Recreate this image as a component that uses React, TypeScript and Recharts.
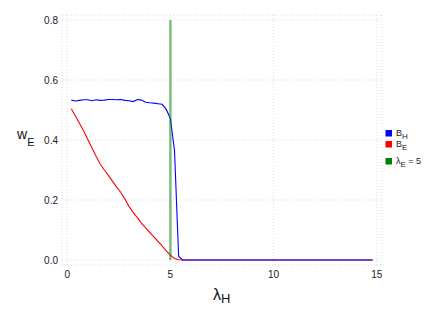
import { CartesianGrid, Label, Line, LineChart, XAxis, YAxis } from "recharts";

// lambda_H sweep
const lambdaH = [
  0.2, 0.4, 0.6, 0.8, 1, 1.2, 1.4, 1.6, 1.8, 2,
  2.2, 2.4, 2.6, 2.8, 3, 3.2, 3.4, 3.6, 3.8, 4,
  4.2, 4.4, 4.6, 4.8, 5, 5.2, 5.4, 5.6, 5.8, 6,
  6.2, 6.4, 6.6, 6.8, 7, 7.2, 7.4, 7.6, 7.8, 8,
  8.2, 8.4, 8.6, 8.8, 9, 9.2, 9.4, 9.6, 9.8, 10,
  10.2, 10.4, 10.6, 10.8, 11, 11.2, 11.4, 11.6, 11.8, 12,
  12.2, 12.4, 12.6, 12.8, 13, 13.2, 13.4, 13.6, 13.8, 14,
  14.2, 14.4, 14.6, 14.8,
];

const wB_H = [
  0.533, 0.530, 0.532, 0.534, 0.534, 0.531, 0.534, 0.532, 0.533, 0.535,
  0.535, 0.534, 0.535, 0.532, 0.531, 0.528, 0.535, 0.533, 0.526, 0.524,
  0.523, 0.521, 0.519, 0.502, 0.472, 0.365, 0.012, 0, 0, 0,
  0, 0, 0, 0, 0, 0, 0, 0, 0, 0,
  0, 0, 0, 0, 0, 0, 0, 0, 0, 0,
  0, 0, 0, 0, 0, 0, 0, 0, 0, 0,
  0, 0, 0, 0, 0, 0, 0, 0, 0, 0,
  0, 0, 0, 0,
];

const wB_E = [
  0.504, 0.480, 0.455, 0.430, 0.402, 0.374, 0.346, 0.320, 0.300, 0.282,
  0.262, 0.243, 0.225, 0.203, 0.178, 0.158, 0.141, 0.123, 0.107, 0.092,
  0.077, 0.062, 0.047, 0.030, 0.016, 0.005, 0.001, 0, 0, 0,
  0, 0, 0, 0, 0, 0, 0, 0, 0, 0,
  0, 0, 0, 0, 0, 0, 0, 0, 0, 0,
  0, 0, 0, 0, 0, 0, 0, 0, 0, 0,
  0, 0, 0, 0, 0, 0, 0, 0, 0, 0,
  0, 0, 0, 0,
];

// vertical marker lambda_E = 5
const lambdaE = [5, 5];
const markerY = [0, 0.8];

const xTicks = [0, 5, 10, 15];
const yTicks = [0, 0.2, 0.4, 0.6, 0.8];

const FONT = "'Liberation Sans', Arial, sans-serif";

const blueData = lambdaH.map((x, i) => ({ x, y: wB_H[i] }));
const redData = lambdaH.map((x, i) => ({ x, y: wB_E[i] }));
const greenData = lambdaE.map((x, i) => ({ x, y: markerY[i] }));

const legendItems = [
  { color: "#0000ff", main: "B", sub: "H", rest: "", y: 6 },
  { color: "#ff0000", main: "B", sub: "E", rest: "", y: 17 },
  { color: "#008000", main: "λ", sub: "E", rest: " = 5", y: 34 },
];

// drawn outside the chart so it doesn't eat plot space
function LegendBox() {
  return (
    <svg width={48} height={44} style={{ position: "absolute", left: 385, top: 128, fontFamily: FONT }}>
      {legendItems.map(it => (
        <g key={it.color}>
          <rect x={0.5} y={it.y - 4} width={6.5} height={6.5} fill={it.color} />
          <text x={11} y={it.y + 2} fontSize={9} fill="#222">
            {it.main}
            <tspan fontSize={8} dy={3}>{it.sub}</tspan>
            <tspan dy={-3}>{it.rest}</tspan>
          </text>
        </g>
      ))}
    </svg>
  );
}

export default function App() {
  return (
    <div style={{ position: "absolute", left: 0, top: 0, width: 436, height: 327 }}>
      <LineChart width={436} height={327} margin={{ top: 15, right: 54, bottom: 32, left: 0 }}>
        <CartesianGrid stroke="#d8daf0" strokeDasharray="1 2" />
        <XAxis
          dataKey="x"
          type="number"
          domain={[-0.25, 15.25]}
          ticks={xTicks}
          axisLine={false}
          tickLine={false}
          tickSize={0}
          tickMargin={6}
          height={30}
          tick={{ fontSize: 10, fill: "#222", fontFamily: FONT }}
          allowDataOverflow
        >
          <Label
            content={() => (
              <text x={213} y={300} fontFamily={FONT} fill="#111" fontSize={16}>
                λ<tspan fontSize={13} dy={3}>H</tspan>
              </text>
            )}
          />
        </XAxis>
        <YAxis
          type="number"
          domain={[-0.0167, 0.8167]}
          ticks={yTicks}
          tickFormatter={(v: number) => v.toFixed(1)}
          axisLine={false}
          tickLine={false}
          tickSize={0}
          tickMargin={4}
          width={62}
          tick={{ fontSize: 10, fill: "#222", fontFamily: FONT }}
          allowDataOverflow
        >
          <Label
            content={() => (
              <text x={17} y={139} fontFamily={FONT} fill="#111" fontSize={14}>
                w<tspan fontSize={11} dy={7}>E</tspan>
              </text>
            )}
          />
        </YAxis>
        <Line data={redData} dataKey="y" name="B_E" stroke="#ff0000" strokeWidth={1.1} dot={false} isAnimationActive={false} />
        <Line data={blueData} dataKey="y" name="B_H" stroke="#0000ff" strokeWidth={1.1} dot={false} isAnimationActive={false} />
        <Line data={greenData} dataKey="y" name="λE = 5" stroke="#008000" strokeOpacity={0.5} strokeWidth={2.5} dot={false} isAnimationActive={false} />
      </LineChart>
      <LegendBox />
    </div>
  );
}
